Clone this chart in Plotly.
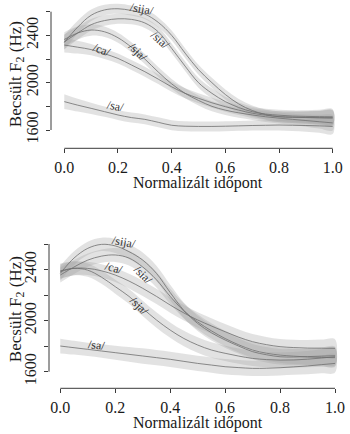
import plotly.graph_objects as go

# ---------------- data ----------------
t = [0.0, 0.05, 0.1, 0.15, 0.2, 0.25, 0.3, 0.35, 0.4, 0.45, 0.5,
     0.55, 0.6, 0.65, 0.7, 0.75, 0.8, 0.85, 0.9, 0.95, 1.0]

# panel 1 (top)
p1_sija = [2340, 2470, 2570, 2615, 2625, 2610, 2580, 2510, 2400, 2250, 2110,
           2000, 1900, 1820, 1765, 1730, 1712, 1708, 1706, 1705, 1705]
p1_sia = [2345, 2420, 2490, 2525, 2540, 2535, 2505, 2430, 2290, 2140, 2000,
          1910, 1840, 1790, 1755, 1735, 1725, 1718, 1715, 1713, 1712]
p1_sja = [2365, 2420, 2445, 2430, 2380, 2300, 2200, 2090, 1990, 1910, 1850,
          1800, 1768, 1745, 1727, 1712, 1700, 1690, 1680, 1670, 1660]
p1_ca = [2318, 2300, 2280, 2245, 2205, 2150, 2093, 2030, 1965, 1910, 1868,
         1830, 1797, 1768, 1742, 1725, 1713, 1708, 1705, 1702, 1700]
p1_sa = [1840, 1810, 1783, 1755, 1727, 1705, 1690, 1665, 1640, 1632, 1630,
         1630, 1632, 1635, 1638, 1640, 1642, 1640, 1638, 1635, 1630]
p1_ci = [62, 54, 48, 44, 42, 42, 42, 42, 42, 42, 42,
         42, 42, 42, 42, 44, 46, 48, 52, 58, 64]

# panel 2 (bottom)
p2_sija = [2370, 2490, 2566, 2597, 2585, 2540, 2474, 2370, 2220, 2080, 1978,
           1905, 1848, 1800, 1757, 1733, 1717, 1715, 1718, 1722, 1725]
p2_sia = [2357, 2420, 2474, 2505, 2514, 2490, 2420, 2320, 2190, 2075, 1990,
          1920, 1860, 1810, 1770, 1745, 1730, 1722, 1715, 1712, 1710]
p2_ca = [2390, 2410, 2409, 2390, 2357, 2310, 2253, 2190, 2122, 2060, 2005,
         1958, 1913, 1870, 1835, 1812, 1796, 1789, 1785, 1784, 1783]
p2_sja = [2383, 2409, 2395, 2340, 2266, 2190, 2096, 2005, 1926, 1860, 1809,
          1770, 1744, 1722, 1704, 1695, 1691, 1692, 1698, 1707, 1717]
p2_sa = [1801, 1788, 1775, 1762, 1749, 1736, 1723, 1710, 1697, 1681, 1665,
         1652, 1639, 1632, 1626, 1627, 1631, 1638, 1645, 1655, 1665]
p2_ci = [58, 54, 52, 52, 55, 58, 60, 60, 60, 60, 60,
         60, 60, 60, 60, 60, 60, 62, 64, 68, 72]

series_names = ["/sija/", "/sia/", "/sja/", "/ca/", "/sa/"]

x_ticks = [0.0, 0.2, 0.4, 0.6, 0.8, 1.0]
x_ticktext = ["0.0", "0.2", "0.4", "0.6", "0.8", "1.0"]
y_ticks = [1600, 1800, 2000, 2200, 2400, 2600]
y_ticktext = ["1600", "", "2000", "", "2400", ""]

x_title = "Normalizált időpont"
y_title = "Becsült F<sub>2</sub> (Hz)"

# label anchor (t, Hz, angle) per panel, same order as series_names
p1_labels = [(0.29, 2625, 10), (0.357, 2361, 42), (0.276, 2262, 45),
             (0.142, 2276, 20), (0.189, 1803, 10)]
p2_labels = [(0.232, 2612, 10), (0.302, 2357, 45), (0.288, 2114, 45),
             (0.197, 2410, 15), (0.132, 1809, 5)]

# ---------------- layout geometry (pixels) ----------------
W, H = 350, 434
FONT = "Liberation Serif, Times New Roman, Times, serif"
AX = "#3a3a3a"
TXT = "#1a1a1a"

panels = [
    dict(means=[p1_sija, p1_sia, p1_sja, p1_ca, p1_sa], ci=p1_ci, labels=p1_labels,
         left=51, right=345, top=0, bottom=148.3,
         x0=64.3, x1=332.7, y1600=130.0, y2600=11.7, xt_y=182.5, yt_x=17),
    dict(means=[p2_sija, p2_sia, p2_sja, p2_ca, p2_sa], ci=p2_ci, labels=p2_labels,
         left=49, right=346, top=230, bottom=388.3,
         x0=60.3, x1=335.0, y1600=371.7, y2600=244.0, xt_y=422.6, yt_x=17),
]

fig = go.Figure()
BAND = "rgba(160,160,160,0.30)"
LINE = "#6e6e6e"

annotations = []
shapes = []

for i, p in enumerate(panels):
    sfx = "" if i == 0 else str(i + 1)
    xa, ya = "x" + sfx, "y" + sfx
    for m in p["means"]:
        up = [v + c for v, c in zip(m, p["ci"])]
        lo = [v - c for v, c in zip(m, p["ci"])]
        fig.add_trace(go.Scatter(
            x=t + t[::-1], y=up + lo[::-1], fill="toself", fillcolor=BAND,
            line=dict(width=0, shape="spline"), mode="lines",
            hoverinfo="skip", showlegend=False, xaxis=xa, yaxis=ya))
    for m in p["means"]:
        fig.add_trace(go.Scatter(
            x=t, y=m, mode="lines", line=dict(color=LINE, width=0.8, shape="spline"),
            hoverinfo="skip", showlegend=False, xaxis=xa, yaxis=ya))
    for name, (lt, lv, ang) in zip(series_names, p["labels"]):
        annotations.append(dict(x=lt, y=lv, xref=xa, yref=ya, text=name,
                                showarrow=False, textangle=ang,
                                font=dict(family=FONT, size=12, color="#333")))

    sx = p["x1"] - p["x0"]
    xr = [(p["left"] - p["x0"]) / sx, (p["right"] - p["x0"]) / sx]
    sy = (p["y1600"] - p["y2600"]) / 1000.0
    yr = [1600 - (p["bottom"] - p["y1600"]) / sy, 2600 + (p["y2600"] - p["top"]) / sy]

    xdom = [p["left"] / W, p["right"] / W]
    ydom = [1 - p["bottom"] / H, 1 - p["top"] / H]

    common = dict(showgrid=False, zeroline=False, showline=False, ticks="outside",
                  ticklen=4, tickwidth=1, tickcolor=AX,
                  tickfont=dict(family=FONT, size=16, color=TXT))
    fig.update_layout(**{
        "xaxis" + sfx: dict(domain=xdom, range=xr, anchor=ya, tickvals=x_ticks,
                            ticktext=x_ticktext, ticklabelstandoff=0, **common),
        "yaxis" + sfx: dict(domain=ydom, range=yr, anchor=xa, tickvals=y_ticks,
                            ticktext=y_ticktext, tickangle=-90, ticklabelstandoff=2,
                            **common),
    })

    shapes.append(dict(type="line", xref="paper", yref="paper",
                       x0=p["left"] / W, x1=p["left"] / W,
                       y0=1 - p["y1600"] / H, y1=1 - p["y2600"] / H,
                       line=dict(color=AX, width=1)))
    shapes.append(dict(type="line", xref="paper", yref="paper",
                       x0=p["x0"] / W, x1=p["x1"] / W,
                       y0=1 - p["bottom"] / H, y1=1 - p["bottom"] / H,
                       line=dict(color=AX, width=1)))

    annotations.append(dict(x=(p["left"] + p["right"]) / 2 / W, y=1 - p["xt_y"] / H,
                            xref="paper", yref="paper", text=x_title, showarrow=False,
                            xanchor="center", yanchor="middle",
                            font=dict(family=FONT, size=16, color=TXT)))
    annotations.append(dict(x=p["yt_x"] / W, y=1 - (p["top"] + p["bottom"]) / 2 / H,
                            xref="paper", yref="paper", text=y_title, showarrow=False,
                            textangle=-90, xanchor="center", yanchor="middle",
                            font=dict(family=FONT, size=17, color=TXT)))

fig.update_layout(width=W, height=H, margin=dict(l=0, r=0, t=0, b=0),
                  paper_bgcolor="white", plot_bgcolor="white",
                  annotations=annotations, shapes=shapes, showlegend=False)

fig.write_html("out.html")
